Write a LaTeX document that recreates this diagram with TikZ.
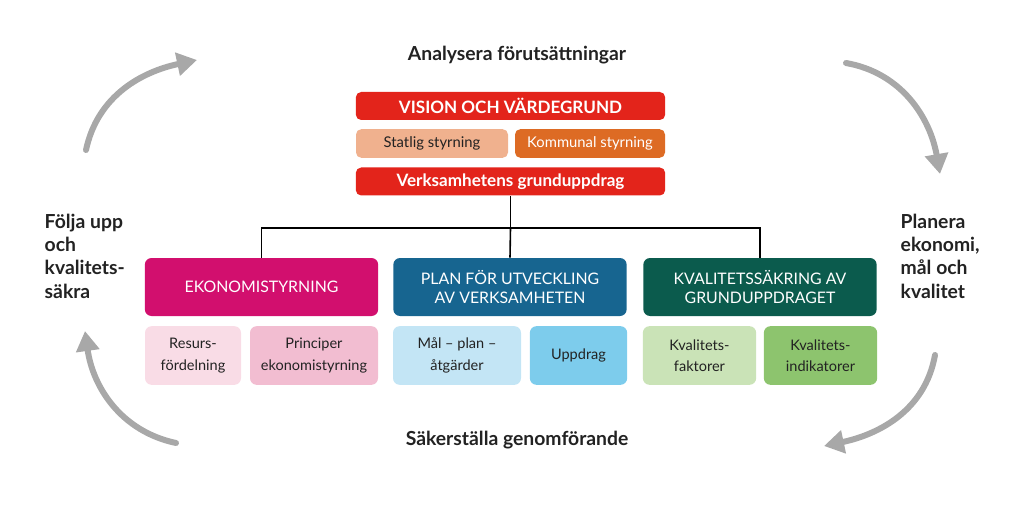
\documentclass[tikz,border=0pt]{standalone}
\usepackage{fontspec}
\setmainfont{Lato}
\usetikzlibrary{arrows.meta}
\definecolor{visred}{HTML}{E3241B}
\definecolor{statpeach}{HTML}{F0B18E}
\definecolor{kommorange}{HTML}{DD6B24}
\definecolor{ekmagenta}{HTML}{D20F6E}
\definecolor{pinklight}{HTML}{F9DCE6}
\definecolor{pinkmid}{HTML}{F2BDD1}
\definecolor{plblue}{HTML}{176590}
\definecolor{bluelight}{HTML}{C3E5F5}
\definecolor{bluemid}{HTML}{7DCCEC}
\definecolor{kvgreen}{HTML}{0B5B4D}
\definecolor{greenlight}{HTML}{CAE3B7}
\definecolor{greenmid}{HTML}{8DC46E}
\definecolor{arrowgray}{HTML}{A8A8A8}
\definecolor{txtdark}{HTML}{222222}

\begin{document}
\begin{tikzpicture}[x=0.75pt,y=0.75pt,
  topbox/.style={rounded corners=4pt, minimum height=21pt, inner sep=0pt, text=white, font=\bfseries\fontsize{12.8}{14}\selectfont},
  midbox/.style={rounded corners=4pt, minimum height=21.5pt, inner sep=0pt, font=\fontsize{11.1}{12}\selectfont},
  mainbox/.style={rounded corners=5pt, minimum width=175pt, minimum height=43.5pt, inner sep=0pt, text=white, align=center, font=\fontsize{11.9}{14.5}\selectfont},
  subbox/.style={rounded corners=5pt, minimum height=44pt, inner sep=0pt, text=txtdark, align=center, font=\fontsize{10.9}{16}\selectfont},
  stage/.style={text=txtdark, font=\bfseries\fontsize{14.5}{17.5}\selectfont},
  cycle/.style={draw=arrowgray, line width=4.5pt, line cap=round, -{Triangle[length=15pt,width=17pt]}}]
\useasboundingbox (0,0) rectangle (1024,504);

% top block
\node[topbox, fill=visred, minimum width=232pt] (vision) at (510.5,398) {VISION OCH VÄRDEGRUND};
\node[midbox, fill=statpeach, minimum width=114pt, text=txtdark] (statlig) at (432,360.5) {Statlig styrning};
\node[midbox, fill=kommorange, minimum width=112.5pt, text=white] (kommunal) at (590,360.5) {Kommunal styrning};
\node[topbox, fill=visred, minimum width=232pt] (verks) at (510.5,322.5) {Verksamhetens grunduppdrag};

% three areas
\node[mainbox, fill=ekmagenta] (ekon) at (261.5,217) {EKONOMISTYRNING};
\node[mainbox, fill=plblue] (plan) at (510,217) {PLAN FÖR UTVECKLING\\AV VERKSAMHETEN};
\node[mainbox, fill=kvgreen] (kval) at (760,217) {KVALITETSSÄKRING AV\\GRUNDUPPDRAGET};

\node[subbox, fill=pinklight, minimum width=72pt] (resurs) at (193,148.5) {Resurs-\\fördelning};
\node[subbox, fill=pinkmid, minimum width=96pt] (princip) at (314,148.5) {Principer\\ekonomistyrning};
\node[subbox, fill=bluelight, minimum width=96pt] (malplan) at (457,148.5) {Mål -- plan --\\åtgärder};
\node[subbox, fill=bluemid, minimum width=73pt] (uppdrag) at (578.5,148.5) {Uppdrag};
\node[subbox, fill=greenlight, minimum width=85pt] (kfakt) at (699.5,148.5) {Kvalitets-\\faktorer};
\node[subbox, fill=greenmid, minimum width=85pt] (kind) at (820.5,148.5) {Kvalitets-\\indikatorer};

% tree lines
\coordinate (bar) at (510.5,276);
\draw[line width=1.2pt] (verks.south) -- (bar);
\draw[line width=1.2pt] (ekon.north) |- (bar) -| (kval.north);
\draw[line width=1.2pt] (bar) -- (plan.north);

% stage labels
\node[stage] (analys) at (517,449) {Analysera förutsättningar};
\node[stage] (sakra) at (517,64) {Säkerställa genomförande};
\node[stage, anchor=west, align=left] (folja) at (40,248) {Följa upp\\och\\kvalitets-\\säkra};
\node[stage, anchor=west, align=left] (planera) at (896,248) {Planera\\ekonomi,\\mål och\\kvalitet};

% cycle arrows
\coordinate (tl1) at (86,354); \coordinate (tl2) at (197,444);
\coordinate (tr1) at (846,441); \coordinate (tr2) at (940,330);
\coordinate (br1) at (935,149); \coordinate (br2) at (824,58);
\coordinate (bl1) at (176,61); \coordinate (bl2) at (85,173);
\draw[cycle] (tl1) to[out=78,in=192] (tl2);
\draw[cycle] (tr1) to[out=-10,in=100] (tr2);
\draw[cycle] (br1) to[out=-100,in=12] (br2);
\draw[cycle] (bl1) to[out=168,in=-82] (bl2);
\end{tikzpicture}
\end{document}
